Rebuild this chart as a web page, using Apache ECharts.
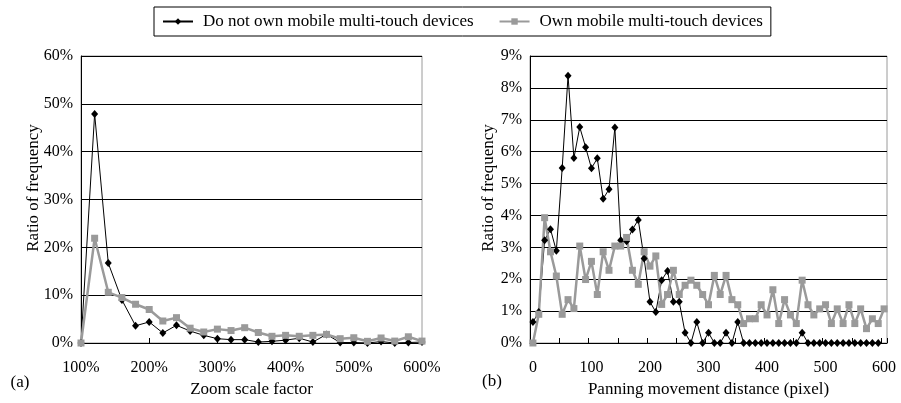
<!DOCTYPE html>
<html><head><meta charset="utf-8">
<script src="https://cdn.jsdelivr.net/npm/echarts@6/dist/echarts.min.js"></script>
<style>html,body{margin:0;padding:0;background:#fff}#c{width:901px;height:403px}</style>
</head><body><div id="c"></div>
<script>
// ---- Data ----
const seriesNames = ['Do not own mobile multi-touch devices', 'Own mobile multi-touch devices'];

// (a) Zoom scale factor (%)
const zoomFactors = [100,120,140,160,180,200,220,240,260,280,300,320,340,360,380,400,420,440,460,480,500,520,540,560,580,600];
const zoomNoTouch = [0,47.9,16.7,9.0,3.6,4.4,2.1,3.7,2.5,1.6,0.9,0.7,0.7,0.2,0.35,0.6,1.0,0.2,1.8,0.1,0.1,0.0,0.3,0.0,0.1,0.2];
const zoomTouch   = [0,21.9,10.6,9.5,8.1,7.0,4.6,5.3,3.1,2.3,2.9,2.6,3.2,2.2,1.4,1.6,1.4,1.6,1.8,0.9,1.1,0.35,1.05,0.4,1.3,0.4];

// (b) Panning movement distance (pixel)
const panDistances = ['0','10','20','30','40','50','60','70','80','90','100','110','120','130','140','150','160','170','180','190','200','210','220','230','240','250','260','270','280','290','300','310','320','330','340','350','360','370','380','390','400','410','420','430','440','450','460','470','480','490','500','510','520','530','540','550','560','570','580','590','600'];
const panNoTouch = [0.66,0.97,3.22,3.57,2.89,5.49,8.38,5.80,6.77,6.14,5.48,5.79,4.52,4.82,6.76,3.22,3.19,3.56,3.86,2.65,1.29,0.97,1.97,2.26,1.29,1.29,0.32,0,0.66,0,0.32,0,0,0.32,0,0.66,0,0,0,0,0,0,0,0,0,0,0.32,0,0,0,0,0,0,0,0,0,0,0,0,0];
const panTouch   = [0,0.9,3.93,2.86,2.1,0.9,1.36,1.08,3.04,1.99,2.56,1.52,2.86,2.28,3.04,3.04,3.31,2.28,1.84,2.86,2.41,2.73,1.21,1.52,2.28,1.52,1.81,1.97,1.81,1.52,1.2,2.12,1.52,2.12,1.36,1.2,0.61,0.76,0.76,1.2,0.88,1.67,0.61,1.36,0.88,0.61,1.97,1.2,0.88,1.07,1.2,0.61,1.07,0.61,1.2,0.61,1.07,0.45,0.76,0.61,1.07];

// ---- Chart ----
const FONT = '"Liberation Serif", "Times New Roman", serif';
const BLACK = '#000';
const GRAY = '#9a9a9a';
const chart = echarts.init(document.getElementById('c'), null, {renderer: 'canvas'});

const labelStyle = {color: BLACK, fontFamily: FONT, fontSize: 16};
const yAxisCommon = {
  type: 'value', min: 0,
  axisLine: {show: true, lineStyle: {color: BLACK, width: 1}},
  axisTick: {show: false},
  axisLabel: Object.assign({formatter: '{value}%', margin: 8}, labelStyle),
  splitLine: {show: true, lineStyle: {color: BLACK, width: 1}}
};
const blackStyle = {
  type: 'line', symbol: 'diamond', symbolSize: [7, 8], showAllSymbol: true,
  lineStyle: {color: BLACK, width: 1}, itemStyle: {color: BLACK},
  animation: false, silent: true
};
const grayStyle = {
  type: 'line', symbol: 'rect', symbolSize: 7, showAllSymbol: true,
  lineStyle: {color: GRAY, width: 2.5}, itemStyle: {color: GRAY},
  animation: false, silent: true
};

const option = {
  backgroundColor: '#fff',
  animation: false,
  legend: {
    data: seriesNames,
    left: 154, top: 7,
    itemWidth: 30, itemHeight: 8, itemGap: 25,
    borderColor: BLACK, borderWidth: 1,
    padding: [6, 8, 6, 8],
    textStyle: {color: BLACK, fontFamily: FONT, fontSize: 17, padding: [0, 0, 0, 5]}
  },
  grid: [
    {left: 81, top: 56, width: 341, height: 287, show: true, borderColor: GRAY, borderWidth: 1, containLabel: false},
    {left: 530, top: 56, width: 357, height: 287, show: true, borderColor: GRAY, borderWidth: 1, containLabel: false}
  ],
  xAxis: [
    {
      gridIndex: 0, type: 'value', min: 100, max: 600, interval: 100,
      name: 'Zoom scale factor', nameLocation: 'middle', nameGap: 38,
      nameTextStyle: {color: BLACK, fontFamily: FONT, fontSize: 17},
      axisLine: {show: true, onZero: false, lineStyle: {color: BLACK, width: 1}},
      axisTick: {show: true, inside: true, length: 5, lineStyle: {color: BLACK}},
      axisLabel: Object.assign({formatter: '{value}%', margin: 17}, labelStyle),
      splitLine: {show: false}
    },
    {
      gridIndex: 1, type: 'category', data: panDistances, boundaryGap: true,
      name: 'Panning movement distance (pixel)', nameLocation: 'middle', nameGap: 38,
      nameTextStyle: {color: BLACK, fontFamily: FONT, fontSize: 17},
      axisLine: {show: true, onZero: false, lineStyle: {color: BLACK, width: 1}},
      axisTick: {show: true, inside: true, length: 5, interval: 4, lineStyle: {color: BLACK}},
      axisLabel: Object.assign({interval: 9, margin: 17}, labelStyle),
      splitLine: {show: false}
    }
  ],
  yAxis: [
    Object.assign({gridIndex: 0, max: 60, interval: 10}, yAxisCommon),
    Object.assign({gridIndex: 1, max: 9, interval: 1}, yAxisCommon)
  ],
  series: [
    Object.assign({name: seriesNames[0], xAxisIndex: 0, yAxisIndex: 0,
      data: zoomFactors.map((x, i) => [x, zoomNoTouch[i]])}, blackStyle),
    Object.assign({name: seriesNames[1], xAxisIndex: 0, yAxisIndex: 0,
      data: zoomFactors.map((x, i) => [x, zoomTouch[i]])}, grayStyle),
    Object.assign({name: seriesNames[0], xAxisIndex: 1, yAxisIndex: 1, data: panNoTouch}, blackStyle),
    Object.assign({name: seriesNames[1], xAxisIndex: 1, yAxisIndex: 1, data: panTouch}, grayStyle)
  ],
  graphic: [
    {type: 'text', x: 34, y: 188, rotation: Math.PI / 2,
      style: {text: 'Ratio of frequency', fill: BLACK, font: '17px ' + FONT, textAlign: 'center', textVerticalAlign: 'middle'}},
    {type: 'text', x: 489, y: 188, rotation: Math.PI / 2,
      style: {text: 'Ratio of frequency', fill: BLACK, font: '17px ' + FONT, textAlign: 'center', textVerticalAlign: 'middle'}},
    {type: 'text', x: 20, y: 383,
      style: {text: '(a)', fill: BLACK, font: '17px ' + FONT, textAlign: 'center', textVerticalAlign: 'middle'}},
    {type: 'text', x: 492, y: 382,
      style: {text: '(b)', fill: BLACK, font: '17px ' + FONT, textAlign: 'center', textVerticalAlign: 'middle'}}
  ]
};
chart.setOption(option);
</script>
</body></html>
